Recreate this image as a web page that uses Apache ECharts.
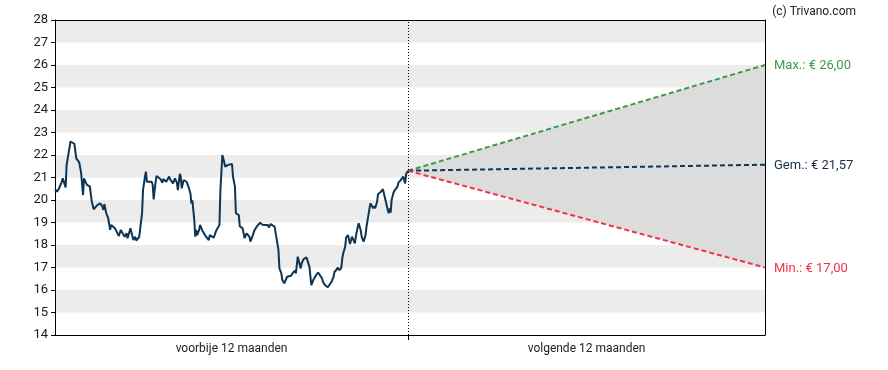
<!DOCTYPE html>
<html>
<head>
<meta charset="utf-8">
<script src="https://cdn.jsdelivr.net/npm/echarts@6/dist/echarts.min.js"></script>
<style>html,body{margin:0;padding:0;background:#fff}#c{width:888px;height:370px}</style>
</head>
<body>
<div id="c"></div>
<script>
// Days (calendar days of the past 12 months) and closing prices
const histDays = [0,2,4,7,8,10,11,12,14,16,18,20,22,24,25,27,28,29,30,31,33,34,36,38,40,42,44,47,49,50,51,53,55,57,58,60,62,64,66,68,70,72,74,75,78,80,81,83,84,87,89,
90,91,93,94,95,97,100,101,102,104,105,107,109,111,112,114,115,118,119,121,122,124,126,127,129,130,131,133,134,136,138,140,141,142,144,145,146,147,149,150,152,153,155,157,159,160,162,164,165,167,169,170,171,173,174,176,178,179,181,183,
184,186,187,188,190,191,193,194,196,198,200,201,202,204,206,208,210,212,213,215,217,220,221,223,225,227,229,231,232,234,235,237,238,240,241,242,244,246,248,249,251,253,254,255,257,260,262,263,265,267,268,270,272,274,
276,277,279,282,284,286,288,289,291,292,294,296,297,298,300,301,303,304,305,307,308,310,311,313,314,316,317,319,321,322,324,326,327,329,330,331,333,334,335,337,339,341,342,344,345,346,347,348,350,351,353,354,355,357,358,360,362,363,365];
const histPrices = [20.48,20.37,20.5,20.81,20.96,20.9,20.56,21.56,22.07,22.6,22.62,22.5,21.85,21.78,21.67,21.21,21.2,20.22,20.96,20.9,20.67,20.74,20.6,19.93,19.59,19.63,19.78,19.85,19.7,19.56,19.82,19.41,19.19,18.67,18.89,18.89,18.74,18.67,18.4,18.67,18.6,18.37,18.52,18.3,18.74,18.67,18.22,18.37,18.2,18.35,18.27,
19.41,20.44,21.04,21.26,20.81,20.89,20.81,20.67,20.03,20.81,21.07,21.04,20.93,20.77,20.93,20.96,20.81,21.04,20.93,20.89,20.74,20.96,20.77,20.44,21.16,21.04,20.52,20.89,20.93,20.81,20.59,20.3,19.85,19.99,19.11,18.37,18.67,18.44,18.67,18.89,18.67,18.59,18.44,18.48,18.22,18.44,18.52,18.33,18.44,18.67,18.67,18.89,20.44,22.0,21.85,21.48,21.41,21.56,21.63,21.6,
21.04,20.6,19.41,19.48,19.33,18.84,18.78,18.74,18.3,18.52,18.48,18.37,18.15,18.37,18.63,18.78,18.89,18.99,18.93,18.89,18.93,18.89,18.78,18.93,18.89,18.82,18.78,17.78,16.96,16.74,16.44,16.3,16.37,16.59,16.52,16.67,16.63,16.77,16.86,16.74,17.48,17.48,16.96,17.19,17.37,17.45,17.37,17.04,16.22,16.44,16.37,16.67,16.77,16.85,
16.52,16.37,16.22,16.12,16.18,16.37,16.59,16.81,16.9,16.99,16.89,16.99,17.41,17.63,17.93,18.34,18.44,18.37,18.04,18.37,18.3,18.07,18.37,18.81,18.96,18.67,18.37,18.15,18.44,18.81,19.33,19.85,19.82,19.63,19.73,19.63,19.93,20.27,20.33,20.37,20.48,20.42,19.93,19.56,19.41,19.63,19.44,20.0,20.33,20.42,20.44,20.59,20.77,20.86,20.92,21.04,20.74,21.16,21.3];

// Forecast (next 12 months)
const fcDays = [365, 734];
const fcMax = [21.3, 26.00];
const fcAvg = [21.3, 21.57];
const fcMin = [21.3, 17.00];
const periodLabels = ['voorbije 12 maanden', 'volgende 12 maanden'];
const yTicks = {min: 14, max: 28, step: 1};

const fmt = v => v.toFixed(2).replace('.', ',');
const pair = (xs, ys) => xs.map((x, i) => [x, ys[i]]);
const X0 = 0, XSPLIT = fcDays[0], XEND = fcDays[fcDays.length - 1];

const chart = echarts.init(document.getElementById('c'));
const FONT = 'Roboto';
const boxAxisX = {type: 'value', min: X0, max: XEND, position: 'top',
  axisLine: {show: true, onZero: false, lineStyle: {color: '#000', width: 1}},
  axisTick: {show: false}, axisLabel: {show: false}, splitLine: {show: false}};
const boxAxisY = {type: 'value', min: yTicks.min, max: yTicks.max, position: 'right',
  axisLine: {show: true, onZero: false, lineStyle: {color: '#000', width: 1}},
  axisTick: {show: false}, axisLabel: {show: false}, splitLine: {show: false}};

chart.setOption({
  animation: false,
  textStyle: {fontFamily: FONT},
  title: {
    text: '(c) Trivano.com', right: 27, top: 1,
    textStyle: {fontSize: 12, fontWeight: 'normal', color: '#222', fontFamily: FONT}
  },
  grid: {left: 55, right: 123, top: 20, bottom: 35},
  xAxis: [{
    type: 'value', min: X0, max: XEND,
    axisLine: {show: true, onZero: false, lineStyle: {color: '#000', width: 1}},
    splitLine: {show: false},
    axisTick: {show: true, customValues: [XSPLIT], length: 5, lineStyle: {color: '#000'}},
    axisLabel: {
      show: true, customValues: [(X0 + XSPLIT) / 2, (XSPLIT + XEND) / 2], margin: 8,
      color: '#222', fontSize: 12, fontFamily: FONT,
      formatter: v => v < XSPLIT ? periodLabels[0] : periodLabels[1]
    }
  }, boxAxisX],
  yAxis: [{
    type: 'value', min: yTicks.min, max: yTicks.max, interval: yTicks.step,
    axisLine: {show: true, onZero: false, lineStyle: {color: '#000', width: 1}},
    axisTick: {show: true, length: 4, lineStyle: {color: '#000'}},
    axisLabel: {color: '#1a1a1a', fontSize: 13, margin: 7, fontFamily: FONT},
    splitLine: {show: false},
    splitArea: {show: true, areaStyle: {color: ['#ffffff', '#ececec']}}
  }, boxAxisY],
  series: [
    {
      type: 'custom', name: 'cone', silent: true, z: 1,
      data: [0],
      renderItem: (params, api) => {
        const pts = [];
        fcDays.forEach((d, i) => pts.push(api.coord([d, fcMax[i]])));
        for (let i = fcDays.length - 1; i >= 0; i--) pts.push(api.coord([fcDays[i], fcMin[i]]));
        return {type: 'polygon', shape: {points: pts}, style: {fill: '#dcdcdc'}};
      }
    },
    {
      type: 'line', name: 'max', data: pair(fcDays, fcMax), symbol: 'none', z: 3,
      lineStyle: {color: '#3b9a4e', width: 2, type: [5, 3]},
      endLabel: {show: true, formatter: 'Max.: € ' + fmt(fcMax[1]), color: '#3b9a4e', fontSize: 13, distance: 9, offset: [0, 1], fontFamily: FONT}
    },
    {
      type: 'line', name: 'avg', data: pair(fcDays, fcAvg), symbol: 'none', z: 3,
      lineStyle: {color: '#0f3554', width: 2, type: [5, 3]},
      endLabel: {show: true, formatter: 'Gem.: € ' + fmt(fcAvg[1]), color: '#1a2e48', fontSize: 13, distance: 9, offset: [0, 1], fontFamily: FONT}
    },
    {
      type: 'line', name: 'min', data: pair(fcDays, fcMin), symbol: 'none', z: 3,
      lineStyle: {color: '#f0334b', width: 2, type: [5, 3]},
      endLabel: {show: true, formatter: 'Min.: € ' + fmt(fcMin[1]), color: '#f0334b', fontSize: 13, distance: 9, offset: [0, 1], fontFamily: FONT}
    },
    {
      type: 'line', name: 'koers', data: pair(histDays, histPrices), symbol: 'none', z: 4,
      lineStyle: {color: '#0d3553', width: 2},
      markLine: {
        silent: true, symbol: 'none', label: {show: false},
        lineStyle: {color: '#000', width: 1, type: [1, 2]},
        data: [{xAxis: XSPLIT}]
      }
    }
  ]
});
</script>
</body>
</html>
